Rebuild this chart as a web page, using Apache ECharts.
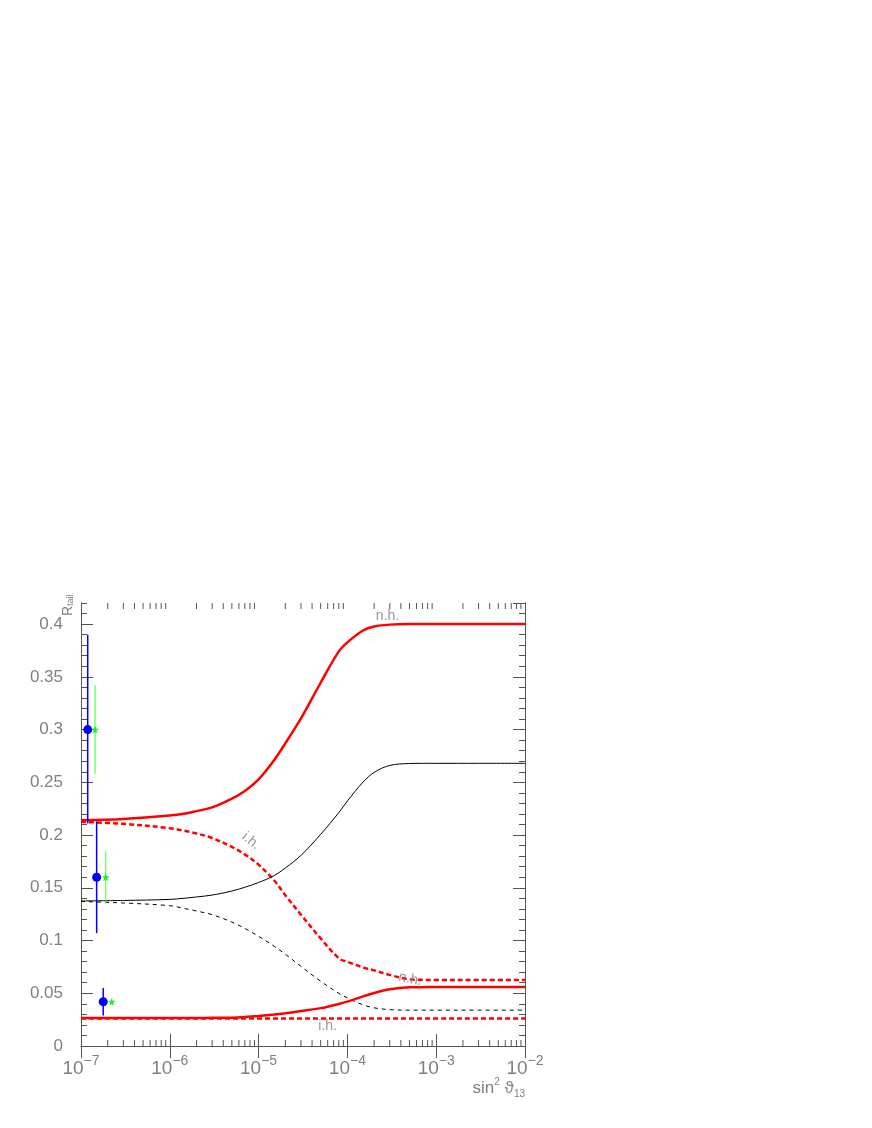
<!DOCTYPE html>
<html lang="en">
<head>
<meta charset="UTF-8">
<title>R_tail vs sin2 theta13</title>
<style>
  * { margin: 0; padding: 0; }
  body { background: #ffffff; }
  #chart { width: 872px; height: 1128px; }
</style>
</head>
<body>
<div id="chart"></div>
<script src="https://cdn.jsdelivr.net/npm/echarts@6/dist/echarts.min.js"></script>
<script>
// sin^2 theta13 sample points shared by all curves
var xs = [1e-7, 3e-7, 1e-6, 1.5e-6, 2e-6, 3e-6, 5e-6, 7e-6, 1e-5, 1.5e-5, 2e-5, 3e-5, 5e-5, 8e-5, 1e-4, 1.5e-4, 2e-4, 3e-4, 5e-4, 7e-4, 1e-3, 3e-3, 1e-2];

// thick red, upper pair
var nhUpper = [0.214, 0.2153, 0.2185, 0.2205, 0.2227, 0.2262, 0.2345, 0.2418, 0.2528, 0.2711, 0.287, 0.3106, 0.3444, 0.3741, 0.3827, 0.3939, 0.3977, 0.3995, 0.4, 0.4, 0.4, 0.4, 0.4];
var ihUpper = [0.2125, 0.2106, 0.2065, 0.2038, 0.2015, 0.1972, 0.1887, 0.1817, 0.1719, 0.1569, 0.143, 0.1245, 0.102, 0.0832, 0.0798, 0.0745, 0.0717, 0.0674, 0.0632, 0.0627, 0.0625, 0.0625, 0.0625];
// thin black, middle pair
var nhMid = [0.1375, 0.138, 0.139, 0.1402, 0.1413, 0.1431, 0.1469, 0.1505, 0.155, 0.1616, 0.1688, 0.1807, 0.2007, 0.2212, 0.2323, 0.2502, 0.2594, 0.266, 0.2678, 0.268, 0.268, 0.268, 0.268];
var ihMid = [0.137, 0.1356, 0.133, 0.1302, 0.128, 0.1245, 0.1175, 0.1115, 0.104, 0.0945, 0.087, 0.0755, 0.0614, 0.0499, 0.0457, 0.039, 0.0362, 0.0345, 0.034, 0.034, 0.034, 0.034, 0.034];
// thick red, lower pair
var nhLower = [0.0265, 0.0265, 0.0265, 0.0266, 0.0266, 0.0267, 0.0269, 0.0275, 0.0285, 0.0299, 0.0311, 0.0331, 0.0359, 0.0399, 0.0421, 0.047, 0.0503, 0.0537, 0.0556, 0.0558, 0.056, 0.056, 0.056];
var ihLower = [0.026, 0.026, 0.026, 0.026, 0.026, 0.026, 0.026, 0.026, 0.026, 0.026, 0.026, 0.026, 0.026, 0.026, 0.026, 0.026, 0.026, 0.026, 0.026, 0.026, 0.026, 0.026, 0.026];

// measured points (blue) and star points (green): x, value, low, high
var blueX = [1.19e-7, 1.5e-7, 1.78e-7];
var blueY = [0.300, 0.160, 0.042];
var blueLo = [0.211, 0.107, 0.029];
var blueHi = [0.390, 0.213, 0.055];
var greenX = [1.44e-7, 1.9e-7, 2.22e-7];
var greenY = [0.300, 0.160, 0.042];
var greenLo = [0.258, 0.135, 0.042];
var greenHi = [0.342, 0.185, 0.042];

// minor ticks of the log axis
var minorX = [
  2e-7, 3e-7, 4e-7, 5e-7, 6e-7, 7e-7, 8e-7, 9e-7,
  2e-6, 3e-6, 4e-6, 5e-6, 6e-6, 7e-6, 8e-6, 9e-6,
  2e-5, 3e-5, 4e-5, 5e-5, 6e-5, 7e-5, 8e-5, 9e-5,
  2e-4, 3e-4, 4e-4, 5e-4, 6e-4, 7e-4, 8e-4, 9e-4,
  2e-3, 3e-3, 4e-3, 5e-3, 6e-3, 7e-3, 8e-3, 9e-3
];

// curve annotations
var noteText = ['n.h.', 'i.h.', 'n.h.', 'i.h.'];
var noteX = [2.83e-4, 8.2e-6, 5.1e-4, 6e-5];
var noteY = [0.408, 0.1943, 0.0634, 0.019];

var Y_MIN = 0, Y_MAX = 0.42;

function main () {
  var chart = echarts.init(document.getElementById('chart'));
  var grey = '#808080';
  var axisCol = '#555555';
  var font = 'Liberation Sans';

  function pairs (ys) { return xs.map(function (x, i) { return [x, ys[i]]; }); }
  function zip (a, b) { return a.map(function (v, i) { return [v, b[i]]; }); }
  function bars (x, lo, hi) { return x.map(function (v, i) { return [v, lo[i], hi[i]]; }); }

  function errorBar (color, width) {
    return function (params, api) {
      var a = api.coord([api.value(0), api.value(1)]);
      var b = api.coord([api.value(0), api.value(2)]);
      return { type: 'line', shape: { x1: a[0], y1: a[1], x2: b[0], y2: b[1] },
               style: { stroke: color, lineWidth: width } };
    };
  }

  // short inward ticks on bottom and top edge
  function minorTick (params, api) {
    var b = api.coord([api.value(0), Y_MIN]);
    var t = api.coord([api.value(0), Y_MAX]);
    return {
      type: 'group',
      children: [
        { type: 'line', shape: { x1: b[0], y1: b[1], x2: b[0], y2: b[1] - 6 }, style: { stroke: axisCol, lineWidth: 1 } },
        { type: 'line', shape: { x1: t[0], y1: t[1], x2: t[0], y2: t[1] + 6 }, style: { stroke: axisCol, lineWidth: 1 } }
      ]
    };
  }

  function line (ys, color, width, dash) {
    return {
      type: 'line', data: pairs(ys), showSymbol: false, smooth: 0.35,
      lineStyle: { color: color, width: width, type: dash || 'solid' }, z: 3
    };
  }

  var xBase = {
    type: 'log', logBase: 10, min: 1e-7, max: 1e-2, gridIndex: 0,
    axisLine: { show: true, lineStyle: { color: axisCol, width: 1 } },
    axisTick: { show: true, inside: true, length: 12, lineStyle: { color: axisCol } },
    splitLine: { show: false }
  };
  var yMajor = {
    type: 'value', min: Y_MIN, max: Y_MAX, interval: 0.05,
    axisLine: { show: true, lineStyle: { color: axisCol, width: 1 } },
    axisTick: { show: true, inside: true, length: 12, lineStyle: { color: axisCol } },
    splitLine: { show: false }
  };
  var yMinor = {
    type: 'value', min: Y_MIN, max: Y_MAX, interval: 0.01,
    axisLine: { show: true, lineStyle: { color: axisCol, width: 1 } },
    axisTick: { show: true, inside: true, length: 6, lineStyle: { color: axisCol } },
    axisLabel: { show: false },
    splitLine: { show: false }
  };

  var option = {
    animation: false,
    backgroundColor: '#ffffff',
    grid: { left: 81, top: 603, width: 444, height: 443 },
    xAxis: [
      echarts.util.merge({
        position: 'bottom',
        axisLabel: {
          margin: 8,
          formatter: function (v) {
            var e = Math.round(Math.log(v) / Math.LN10);
            return '{b|10}{s|\u2212' + Math.abs(e) + '}';
          },
          rich: {
            b: { fontFamily: font, fontSize: 19, color: grey, verticalAlign: 'bottom', lineHeight: 24 },
            s: { fontFamily: font, fontSize: 14, color: grey, verticalAlign: 'top', lineHeight: 24 }
          }
        }
      }, xBase, true),
      echarts.util.merge({ position: 'top', axisLabel: { show: false } }, xBase, true)
    ],
    yAxis: [
      echarts.util.merge({
        position: 'left',
        axisLabel: {
          margin: 18, color: grey, fontFamily: font, fontSize: 17,
          showMaxLabel: false
        }
      }, yMajor, true),
      echarts.util.merge({ position: 'left' }, yMinor, true),
      echarts.util.merge({ position: 'right', axisLabel: { show: false } }, yMajor, true),
      echarts.util.merge({ position: 'right' }, yMinor, true)
    ],
    graphic: [
      {
        type: 'text', x: 75, y: 616, rotation: Math.PI / 2,
        style: {
          text: '{r|R}{t|tail}', align: 'left', verticalAlign: 'bottom',
          rich: {
            r: { fontFamily: font, fontSize: 14, fill: grey, verticalAlign: 'bottom', lineHeight: 16 },
            t: { fontFamily: font, fontSize: 9, fill: grey, verticalAlign: 'bottom', lineHeight: 12 }
          }
        }
      },
      {
        type: 'text', x: 525, y: 1088,
        style: {
          text: '{n|sin}{p|2}{n| \u03d1}{d|13}', align: 'right', verticalAlign: 'middle',
          rich: {
            n: { fontFamily: font, fontSize: 17, fill: grey, lineHeight: 22, verticalAlign: 'middle' },
            p: { fontFamily: font, fontSize: 10, fill: grey, lineHeight: 22, verticalAlign: 'top' },
            d: { fontFamily: font, fontSize: 10, fill: grey, lineHeight: 18, verticalAlign: 'bottom' }
          }
        }
      }
    ],
    series: [
      {
        type: 'custom', data: minorX.map(function (v) { return [v, Y_MIN]; }),
        encode: { x: 0, y: 1 }, renderItem: minorTick, silent: true, z: 2
      },
      line(nhUpper, '#ff0000', 2.5),
      line(ihUpper, '#ff0000', 2.5, [5, 3]),
      line(nhMid, '#000000', 1),
      line(ihMid, '#000000', 1, [4, 4]),
      line(nhLower, '#ff0000', 2.5),
      line(ihLower, '#ff0000', 2.5, [5, 3]),
      {
        type: 'custom', data: bars(blueX, blueLo, blueHi), encode: { x: 0, y: [1, 2] },
        renderItem: errorBar('#0000ff', 1.5), z: 4
      },
      {
        type: 'custom', data: bars(greenX, greenLo, greenHi), encode: { x: 0, y: [1, 2] },
        renderItem: errorBar('#33ff33', 1), z: 4
      },
      {
        type: 'scatter', data: zip(blueX, blueY), symbol: 'circle', symbolSize: 9,
        itemStyle: { color: '#0000ff', opacity: 1 }, z: 5
      },
      {
        type: 'scatter', data: zip(greenX, greenY),
        symbol: 'path://M0,-10L2.35,-3.24L9.51,-3.09L3.8,1.24L5.88,8.09L0,4L-5.88,8.09L-3.8,1.24L-9.51,-3.09L-2.35,-3.24Z',
        symbolSize: 8, itemStyle: { color: '#22ee22', opacity: 1 }, z: 5
      },
      {
        type: 'scatter', symbolSize: 0, silent: true, z: 6,
        data: noteText.map(function (t, i) {
          var rot = [0, -38, -12, 0][i];
          return { value: [noteX[i], noteY[i]], name: t, label: { rotate: rot } };
        }),
        label: {
          show: true, position: 'inside', formatter: '{b}',
          color: grey, fontFamily: font, fontSize: 14
        }
      }
    ]
  };
  chart.setOption(option);
}

window.addEventListener('load', main);
</script>
</body>
</html>
